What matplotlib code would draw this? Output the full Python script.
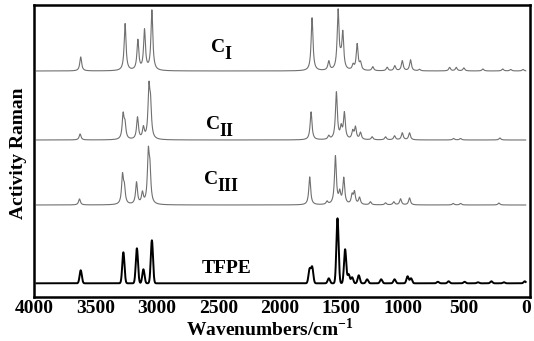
import numpy as np
import matplotlib
matplotlib.use("Agg")
import matplotlib.pyplot as plt

plt.rcParams['font.family'] = ['Liberation Serif', 'DejaVu Serif']
plt.rcParams['font.weight'] = 'bold'
plt.rcParams['mathtext.fontset'] = 'custom'
plt.rcParams['mathtext.rm'] = 'Liberation Serif:bold'
plt.rcParams['mathtext.bf'] = 'Liberation Serif:bold'

# peak tables (wavenumber, relative activity)
ci_pos = [3620, 3259, 3155, 3101, 3041, 1738, 1602, 1526, 1505, 1488, 1404, 1371, 1344,
          1244, 1127, 1065, 1004, 937, 864, 619, 565, 503, 348, 187, 122, 22]
ci_h = [14, 47, 30, 40, 60, 53, 9, 59, 6, 36, 5, 26, 7,
        4, 3.5, 5, 10, 11, 1.5, 3.5, 3.5, 3, 2, 2, 1.5, 1.5]

cii_pos = [3625, 3275, 3260, 3158, 3110, 3065, 3052, 1746, 1602, 1540, 1501, 1475, 1407,
           1385, 1344, 1249, 1140, 1067, 1004, 945, 587, 530, 210]
cii_h = [6, 24, 14, 22, 11, 48, 30, 28, 3.5, 47, 11, 26, 8,
         12, 7, 3, 3, 4, 7, 7, 1.5, 1.5, 2]

ciii_pos = [3630, 3280, 3265, 3166, 3118, 3070, 3057, 1757, 1616, 1548, 1513, 1480, 1412,
            1393, 1352, 1263, 1140, 1073, 1018, 945, 590, 530, 218]
ciii_h = [6, 28, 15, 22, 11, 48, 30, 28, 3, 48, 11, 26, 9,
          12, 7, 3, 2, 3, 6, 7, 1.5, 1.5, 2]

tfpe_pos = [3620, 3273, 3163, 3110, 3041, 1758, 1737, 1602, 1531, 1469, 1440, 1412, 1358,
            1290, 1176, 1067, 961, 933, 715, 627, 497, 389, 279, 177, 8]
tfpe_h = [13, 31, 35, 14, 43, 14, 16, 5, 65, 34, 9, 6, 8,
          4, 4, 4, 7, 5, 1.5, 2, 1.5, 1, 2, 1, 2]

names = ['I', 'II', 'III', 'TFPE']
offsets = [226, 157, 92, 13.7]

wn = np.arange(3980, -1, -1.0)


def lorentz(pos, h, g):
    y = np.zeros_like(wn)
    for p, a in zip(pos, h):
        y += a * g**2 / ((wn - p)**2 + g**2)
    return y


def gauss(pos, h, s):
    y = np.zeros_like(wn)
    for p, a in zip(pos, h):
        y += a * np.exp(-0.5 * ((wn - p) / s)**2)
    return y


fig = plt.figure(figsize=(5.34, 3.41), dpi=100)
ax = fig.add_axes([34/534, 44/341, 496/534, 292/341])

gray = '#707070'
ax.plot(wn, offsets[0] + lorentz(ci_pos, ci_h, 9), color=gray, lw=0.8)
ax.plot(wn, offsets[1] + lorentz(cii_pos, cii_h, 9), color=gray, lw=0.8)
ax.plot(wn, offsets[2] + lorentz(ciii_pos, ciii_h, 9), color=gray, lw=0.8)
ax.plot(wn, offsets[3] + gauss(tfpe_pos, tfpe_h, 9), color='black', lw=1.4)

ax.set_xlim(4000, -35)
ax.set_ylim(0, 292)
ax.set_xticks([4000, 3500, 3000, 2500, 2000, 1500, 1000, 500, 0])
ax.set_yticks([])
ax.tick_params(axis='x', length=0, pad=2, labelsize=14)
for lab in ax.get_xticklabels():
    lab.set_fontweight('bold')
for sp in ax.spines.values():
    sp.set_linewidth(1.8)

# curve labels
lab_xy = [(0.357, 0.826), (0.347, 0.562), (0.343, 0.373)]
for (x, y), sub in zip(lab_xy, names[:3]):
    t = ax.text(x, y, 'C', transform=ax.transAxes, fontsize=14,
                fontweight='bold', va='bottom', ha='left')
    ax.annotate(sub, xy=(1, 0), xycoords=t, xytext=(-0.8, -5),
                textcoords='offset points', fontsize=13, fontweight='bold',
                va='bottom', ha='left')
ax.text(0.339, 0.082, 'TFPE', transform=ax.transAxes, fontsize=14,
        fontweight='bold', va='baseline', ha='left')

fig.text(19/534, 1 - 153/341, 'Activity Raman', rotation=90, fontsize=14,
         fontweight='bold', ha='center', va='center')
fig.text(270/534, 1 - 329/341, 'Wavenumbers/cm$^{-1}$', fontsize=14,
         fontweight='bold', ha='center', va='center')

fig.savefig('out.png', dpi=100)
